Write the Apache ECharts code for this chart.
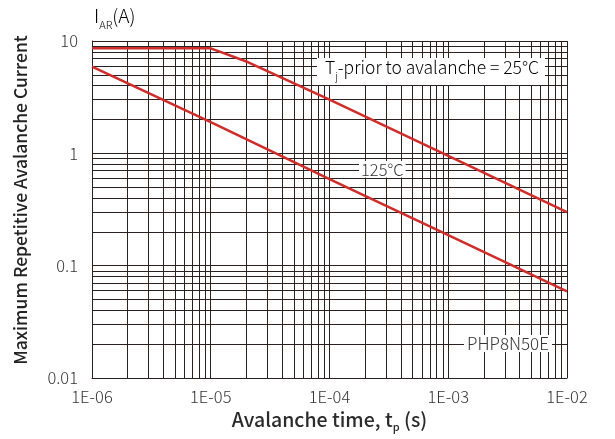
<!DOCTYPE html>
<html>
<head>
<meta charset="utf-8">
<script src="https://cdn.jsdelivr.net/npm/echarts@6/dist/echarts.min.js"></script>
<style>
  html, body { margin: 0; padding: 0; background: #fff; }
  #chart { width: 615px; height: 439px; }
</style>
</head>
<body>
<div id="chart"></div>
<script>
// Avalanche time (s) vs. maximum repetitive avalanche current (A)
const curve25Time = [1e-6, 1e-5, 2.05e-5, 1e-4, 1e-3, 1e-2];
const curve25Current = [8.6, 8.6, 6.5, 3.0, 0.95, 0.30];
const curve125Time = [1e-6, 1e-5, 1e-4, 1e-3, 1e-2];
const curve125Current = [5.9, 1.9, 0.59, 0.187, 0.059];

const xDecades = [1e-6, 1e-5, 1e-4, 1e-3];
const yDecades = [0.01, 0.1, 1];
const minorSteps = [2, 3, 4, 5, 6, 7, 8, 9];

const xTickLabels = { '-6': '1E-06', '-5': '1E-05', '-4': '1E-04', '-3': '1E-03', '-2': '1E-02' };
const yTickLabels = { '-2': '0.01', '-1': '0.1', '0': '1', '1': '10' };

const X_MIN = 1e-6, X_MAX = 1e-2, Y_MIN = 0.01, Y_MAX = 10;

const FONT = '"Noto Sans CJK SC", "Noto Sans", sans-serif';
const GRID_COLOR = '#2b2020';
const RED = '#cf2c2a';

const zip = (xs, ys) => xs.map((x, i) => [x, ys[i]]);

// Rich-text styles for a main run and a subscript dropped below its baseline
const mainRun = (size, weight, h) => ({
  fontFamily: FONT, fontSize: size, fontWeight: weight, color: '#2a2a2a',
  verticalAlign: 'top', lineHeight: h
});
const subRun = (size, weight, drop) => ({
  fontFamily: FONT, fontSize: size, fontWeight: weight, color: '#2a2a2a',
  verticalAlign: 'top', lineHeight: size + 1, padding: [drop, 0, 0, 0]
});

// Minor log grid (2..9 within each decade), spanning the full plot
const minorLines = [];
xDecades.forEach(d => minorSteps.forEach(k => {
  minorLines.push([{ coord: [k * d, Y_MIN] }, { coord: [k * d, Y_MAX] }]);
}));
yDecades.forEach(d => minorSteps.forEach(k => {
  minorLines.push([{ coord: [X_MIN, k * d] }, { coord: [X_MAX, k * d] }]);
}));

const chart = echarts.init(document.getElementById('chart'), null, { renderer: 'canvas' });

chart.setOption({
  animation: false,
  backgroundColor: '#fff',
  grid: { left: 92, right: 48, top: 41, bottom: 61, containLabel: false },
  xAxis: {
    type: 'log',
    logBase: 10,
    min: X_MIN,
    max: X_MAX,
    name: '{b|Avalanche time, t}{s|p}{b| (s)}',
    nameLocation: 'middle',
    nameGap: 27,
    nameTextStyle: {
      rich: {
        b: mainRun(19.5, 500, 24),
        s: subRun(11, 500, 12)
      }
    },
    axisLine: { show: true, lineStyle: { color: GRID_COLOR, width: 1 } },
    axisTick: { show: false },
    axisLabel: {
      fontFamily: FONT, fontSize: 16.5, fontWeight: 300, color: '#333', margin: 10,
      formatter: v => xTickLabels[String(Math.round(Math.log10(v)))] || ''
    },
    splitLine: { show: true, lineStyle: { color: GRID_COLOR, width: 1 } }
  },
  yAxis: {
    type: 'log',
    logBase: 10,
    min: Y_MIN,
    max: Y_MAX,
    axisLine: { show: true, lineStyle: { color: GRID_COLOR, width: 1 } },
    axisTick: { show: false },
    axisLabel: {
      fontFamily: FONT, fontSize: 16.5, fontWeight: 300, color: '#333', margin: 14,
      formatter: v => yTickLabels[String(Math.round(Math.log10(v)))] || ''
    },
    splitLine: { show: true, lineStyle: { color: GRID_COLOR, width: 1 } }
  },
  series: [
    {
      name: 'grid-minor',
      type: 'line',
      data: [],
      silent: true,
      markLine: {
        silent: true,
        symbol: ['none', 'none'],
        label: { show: false },
        lineStyle: { color: GRID_COLOR, width: 1, type: 'solid' },
        data: minorLines
      }
    },
    {
      name: '25°C',
      type: 'line',
      data: zip(curve25Time, curve25Current),
      showSymbol: false,
      lineStyle: { color: RED, width: 2.5 },
      z: 5
    },
    {
      name: '125°C',
      type: 'line',
      data: zip(curve125Time, curve125Current),
      showSymbol: false,
      lineStyle: { color: RED, width: 2.5 },
      z: 5
    }
  ],
  graphic: [
    {
      // vertical axis title
      type: 'text',
      x: 20, y: 200,
      rotation: Math.PI / 2,
      style: {
        text: 'Maximum Repetitive Avalanche Current',
        fontFamily: FONT, fontSize: 17.5, fontWeight: 500, fill: '#222',
        align: 'center', verticalAlign: 'middle'
      }
    },
    {
      type: 'text',
      left: 94, top: 6,
      style: {
        text: '{m|I}{s|AR}{m|(A)}',
        rich: {
          m: mainRun(19, 300, 26),
          s: subRun(11, 300, 13)
        }
      }
    },
    {
      type: 'text',
      left: 317, top: 58,
      z: 10,
      style: {
        text: '{m|T}{s|j}{m|-prior to avalanche = 25°C}',
        backgroundColor: '#fff',
        padding: [1, 6, 2, 8],
        rich: {
          m: mainRun(17.5, 300, 24),
          s: subRun(10, 300, 12)
        }
      }
    },
    {
      type: 'text',
      left: 359, top: 161,
      z: 10,
      style: {
        text: '125°C',
        fontFamily: FONT, fontSize: 16.5, fontWeight: 300, fill: '#333',
        backgroundColor: '#fff',
        padding: [0, 2, 0, 2]
      }
    },
    {
      type: 'text',
      left: 464, top: 335,
      z: 10,
      style: {
        text: 'PHP8N50E',
        fontFamily: FONT, fontSize: 17, fontWeight: 300, fill: '#333',
        backgroundColor: '#fff',
        padding: [0, 3, 0, 3]
      }
    }
  ]
});
</script>
</body>
</html>
